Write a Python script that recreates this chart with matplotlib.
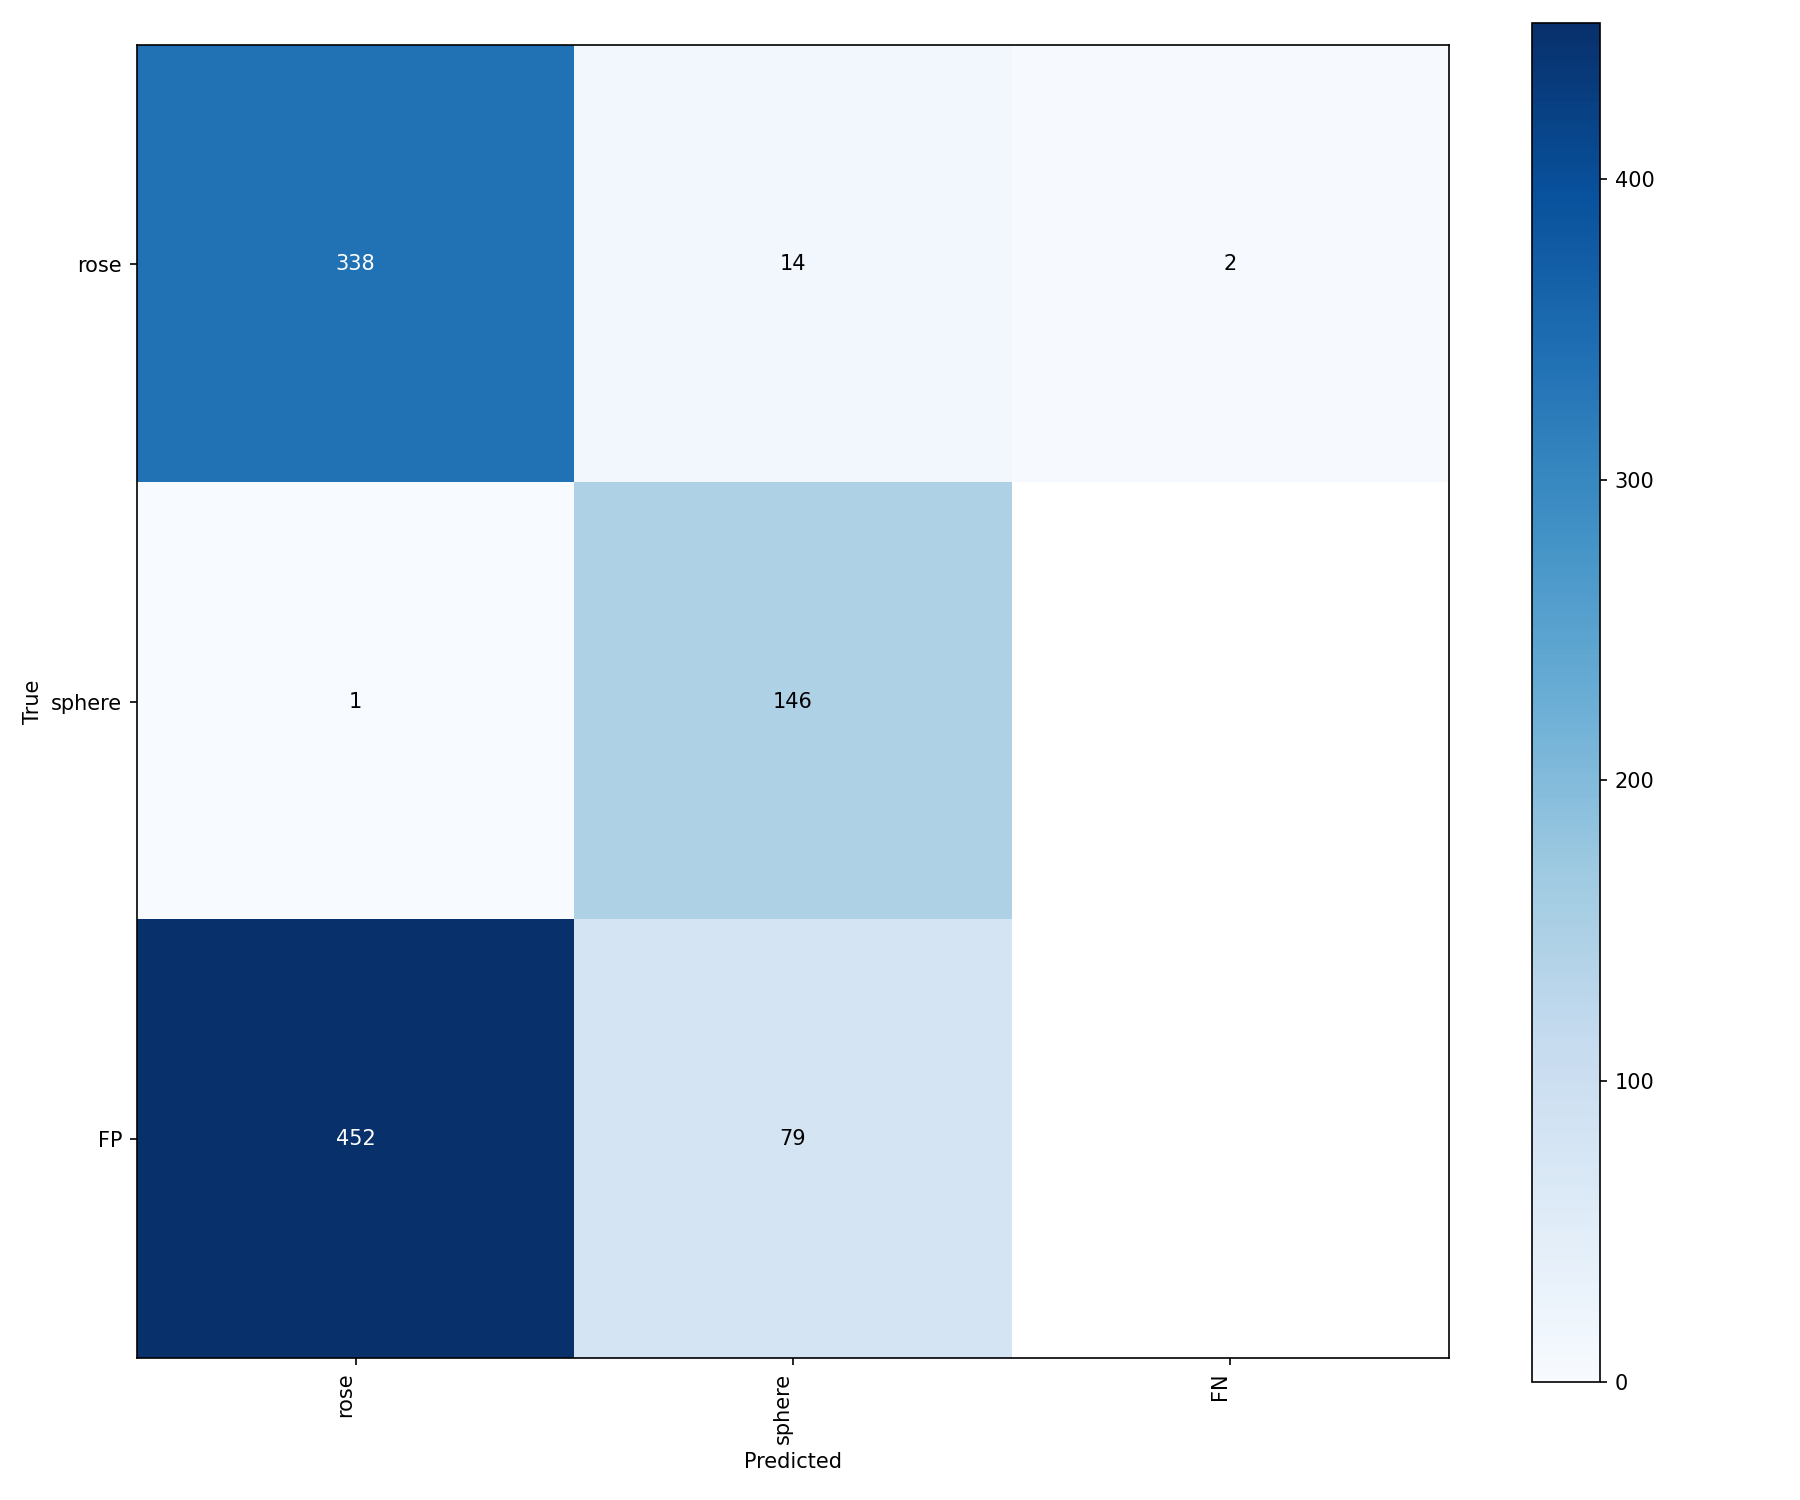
import numpy as np
import matplotlib
matplotlib.use("Agg")
import matplotlib.pyplot as plt

# confusion matrix data
true_labels = ["rose", "sphere", "FP"]
pred_labels = ["rose", "sphere", "FN"]
row_rose = [338, 14, 2]
row_sphere = [1, 146, np.nan]
row_fp = [452, 79, np.nan]

mat = np.array([row_rose, row_sphere, row_fp], dtype=float)

fig = plt.figure(figsize=(12, 10), dpi=150)
ax = fig.add_axes([0.076, 0.0947, 0.729, 0.875])
cax = fig.add_axes([0.851, 0.079, 0.038, 0.906])

im = ax.imshow(mat, cmap="Blues", vmin=0, vmax=np.nanmax(mat), aspect="auto")
fig.colorbar(im, cax=cax)

thresh = np.nanmax(mat) / 2
for i in range(mat.shape[0]):
    for j in range(mat.shape[1]):
        v = mat[i, j]
        if np.isnan(v):
            continue
        ax.text(j, i, f"{int(v)}", ha="center", va="center",
                color="white" if v > thresh else "black", fontsize=10)

ax.set_xticks(range(len(pred_labels)))
ax.set_xticklabels(pred_labels, rotation=90, ha="right")
ax.set_yticks(range(len(true_labels)))
ax.set_yticklabels(true_labels)
ax.set_xlabel("Predicted")
ax.set_ylabel("True")

fig.savefig("out.png", dpi=150)
